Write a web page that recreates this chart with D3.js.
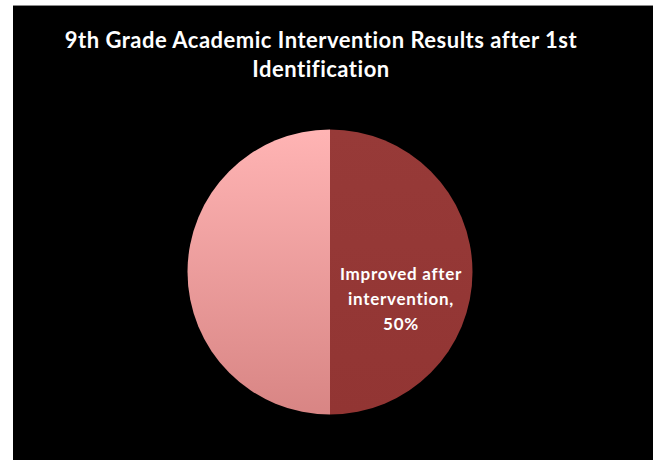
<!DOCTYPE html>
<html>
<head>
<meta charset="utf-8">
<script src="https://cdn.jsdelivr.net/npm/d3@7"></script>
<style>
  html, body { margin: 0; padding: 0; background: #ffffff; }
  svg { display: block; }
</style>
</head>
<body>
<script>
// ---- data ----
const categories = ["Improved after intervention", "Did not improve after intervention"];
const values = [50, 50];
const showLabel = [true, false];
const titleLines = ["9th Grade Academic Intervention Results after 1st", "Identification"];

const W = 657, H = 460;
const svg = d3.select("body").append("svg").attr("width", W).attr("height", H);

const defs = svg.append("defs");
const g1 = defs.append("linearGradient").attr("id", "gradLight")
  .attr("x1", 0).attr("y1", 0).attr("x2", 0).attr("y2", 1);
g1.append("stop").attr("offset", "0%").attr("stop-color", "#ffb4b4");
g1.append("stop").attr("offset", "100%").attr("stop-color", "#d88584");
const g2 = defs.append("linearGradient").attr("id", "gradDark")
  .attr("x1", 0).attr("y1", 0).attr("x2", 0).attr("y2", 1);
g2.append("stop").attr("offset", "0%").attr("stop-color", "#973a38");
g2.append("stop").attr("offset", "100%").attr("stop-color", "#923533");

// chart area background
svg.append("rect").attr("x", 13).attr("y", 5).attr("width", 640).attr("height", H - 5).attr("fill", "#000");
svg.append("line").attr("x1", 13).attr("x2", 653).attr("y1", 5.5).attr("y2", 5.5)
  .attr("stroke", "#8a8a8a").attr("stroke-width", 1);

// title
const title = svg.append("text")
  .attr("text-anchor", "middle")
  .attr("font-family", "Lato, 'Open Sans', sans-serif")
  .attr("font-weight", "bold")
  .attr("font-size", 22)
  .attr("letter-spacing", 0.5)
  .attr("fill", "#ffffff");
titleLines.forEach((t, i) => {
  title.append("tspan").attr("x", 321).attr("y", 48 + i * 29).text(t);
});

// pie
const cx = 330, cy = 272, r = 142.5;
const pie = d3.pie().sort(null).value(d => d.value).startAngle(0).endAngle(2 * Math.PI);
const data = categories.map((c, i) => ({ name: c, value: values[i], label: showLabel[i] }));
const arcs = pie(data);
const arc = d3.arc().innerRadius(0).outerRadius(r);
const fills = ["url(#gradDark)", "url(#gradLight)"];

const gp = svg.append("g").attr("transform", `translate(${cx},${cy})`);
gp.selectAll("path").data(arcs).join("path")
  .attr("d", arc)
  .attr("fill", (d, i) => fills[i]);

// data label
const total = d3.sum(values);
const lab = arcs.filter(d => d.data.label);
lab.forEach(d => {
  const pct = Math.round(d.data.value / total * 100) + "%";
  const words = d.data.name.split(" ");
  const lines = [words.slice(0, 2).join(" "), words.slice(2).join(" ") + ",", pct];
  const t = gp.append("text")
    .attr("text-anchor", "middle")
    .attr("font-family", "Lato, 'Open Sans', sans-serif")
    .attr("font-weight", "bold")
    .attr("font-size", 17)
    .attr("letter-spacing", 0.7)
    .attr("fill", "#ffffff");
  lines.forEach((l, i) => {
    t.append("tspan").attr("x", 71).attr("y", 8 + i * 25).text(l);
  });
});
</script>
</body>
</html>
